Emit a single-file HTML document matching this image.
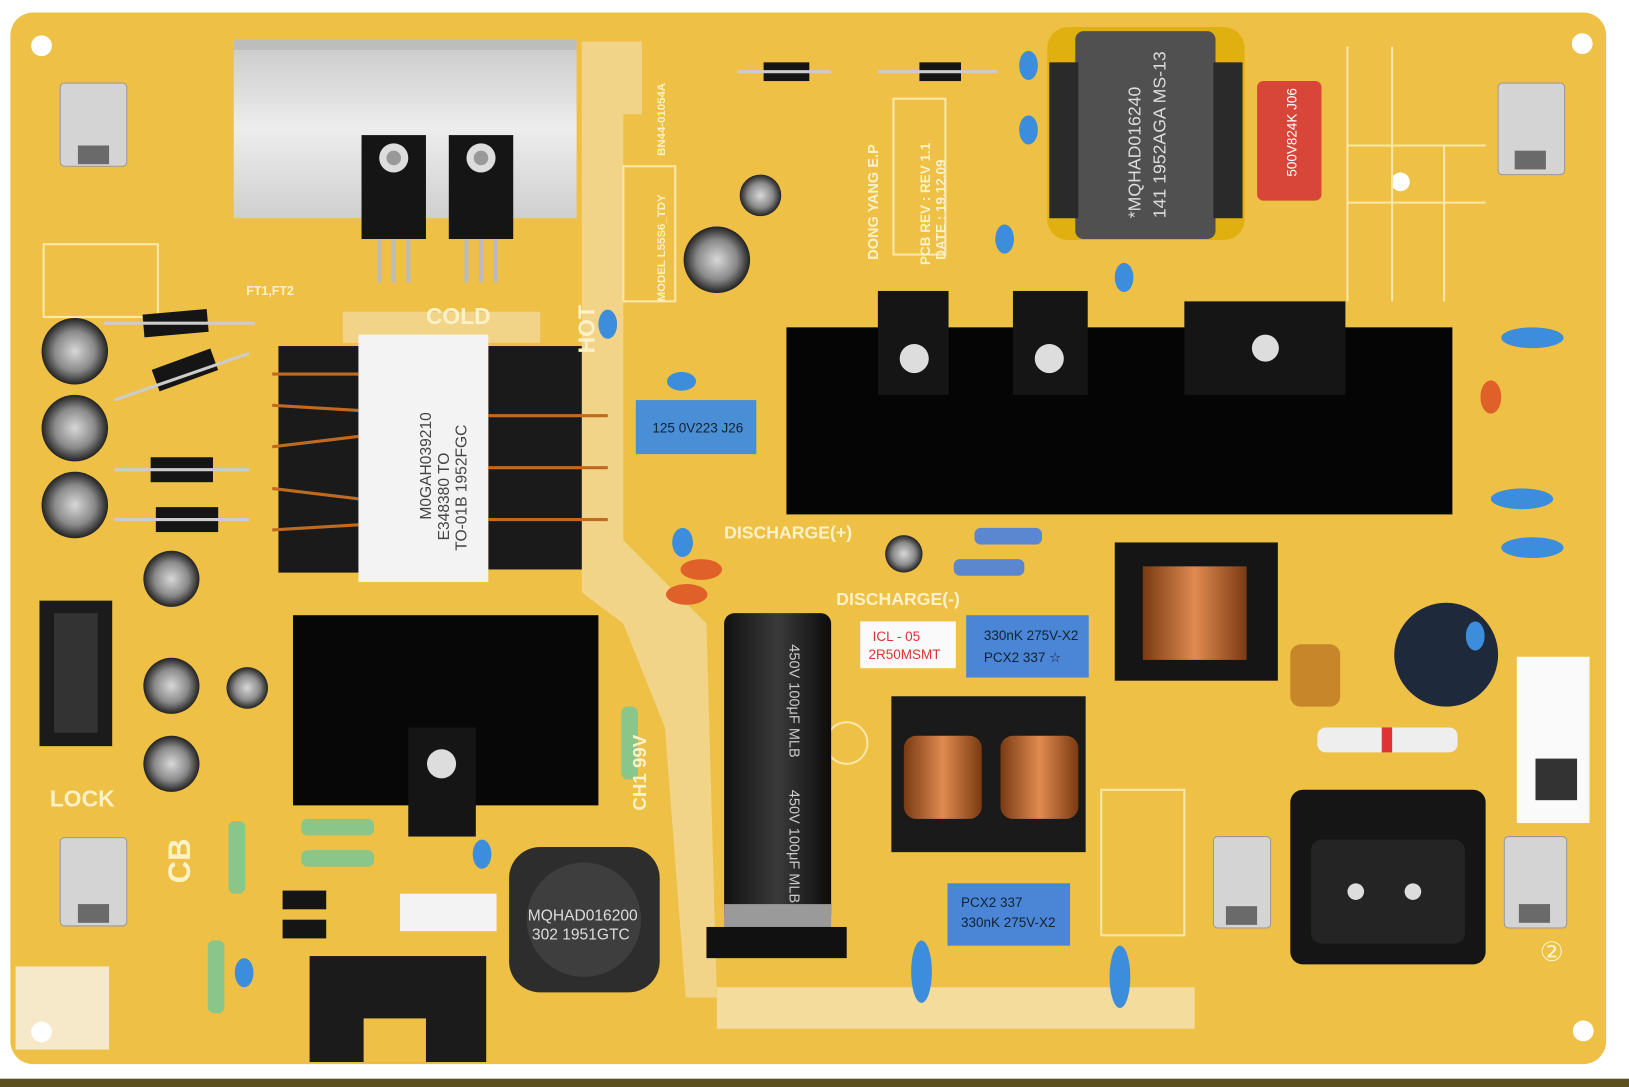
<!DOCTYPE html>
<html><head><meta charset="utf-8"><style>
html,body{margin:0;padding:0;background:#fff;}
svg{display:block;}
text{font-family:"Liberation Sans",sans-serif;}
</style></head><body>
<svg width="1629" height="1087" viewBox="0 0 1568 1046" preserveAspectRatio="none" xmlns="http://www.w3.org/2000/svg">
<defs>
<linearGradient id="al" x1="0" x2="0" y1="0" y2="1"><stop offset="0" stop-color="#c9c9c9"/><stop offset="0.5" stop-color="#ededed"/><stop offset="1" stop-color="#cfcfcf"/></linearGradient>
<linearGradient id="cap" x1="0" x2="1"><stop offset="0" stop-color="#111"/><stop offset="0.5" stop-color="#3a3a3a"/><stop offset="1" stop-color="#0c0c0c"/></linearGradient>
<radialGradient id="ecap"><stop offset="0" stop-color="#d8d8d8"/><stop offset="0.6" stop-color="#8a8a8a"/><stop offset="1" stop-color="#222"/></radialGradient>
<linearGradient id="cu" x1="0" x2="1"><stop offset="0" stop-color="#7a3a12"/><stop offset="0.5" stop-color="#e08a50"/><stop offset="1" stop-color="#7a3a12"/></linearGradient>
</defs>
<rect width="1568" height="1046" fill="#fff"/>
<rect x="0" y="1038" width="1568" height="8" fill="#5a5020"/>
<rect x="10" y="12" width="1536" height="1012" rx="22" fill="#eec045"/>
<path d="M555 40 L618 40 L618 110 L600 110 L600 520 L640 560 L680 600 L690 960 L660 960 L640 700 L600 600 L560 570 L560 40 Z" fill="#f2d488"/>
<path d="M330 300 L520 300 L520 330 L330 330 Z" fill="#f2d488"/>
<rect x="690" y="950" width="460" height="40" fill="#f4dc9c"/>
<rect x="15" y="930" width="90" height="80" fill="#f6e9c9"/>
<g fill="#fff"><circle cx="40" cy="44" r="10"/><circle cx="1523" cy="42" r="10"/><circle cx="40" cy="993" r="10"/><circle cx="1524" cy="992" r="10"/><circle cx="1348" cy="175" r="9"/></g>
<g stroke="#fbe7a8" stroke-width="2" fill="none">
<rect x="42" y="235" width="110" height="70"/>
<line x1="1297" y1="45" x2="1297" y2="290"/><line x1="1297" y1="140" x2="1430" y2="140"/><line x1="1297" y1="195" x2="1430" y2="195"/><line x1="1340" y1="45" x2="1340" y2="290"/><line x1="1390" y1="140" x2="1390" y2="290"/>
<rect x="860" y="95" width="50" height="150"/>
<rect x="600" y="160" width="50" height="130"/>
<circle cx="815" cy="715" r="20"/>
<rect x="1060" y="760" width="80" height="140"/>
</g>
<rect x="225" y="38" width="330" height="172" fill="url(#al)"/>
<rect x="225" y="38" width="330" height="10" fill="#bdbdbd"/>
<g>
<rect x="348" y="130" width="62" height="100" fill="#151515"/><circle cx="379" cy="152" r="14" fill="#ddd"/><circle cx="379" cy="152" r="7" fill="#999"/>
<rect x="432" y="130" width="62" height="100" fill="#151515"/><circle cx="463" cy="152" r="14" fill="#ddd"/><circle cx="463" cy="152" r="7" fill="#999"/>
<g stroke="#bbb" stroke-width="4"><line x1="365" y1="230" x2="365" y2="272"/><line x1="379" y1="230" x2="379" y2="272"/><line x1="393" y1="230" x2="393" y2="272"/><line x1="449" y1="230" x2="449" y2="272"/><line x1="463" y1="230" x2="463" y2="272"/><line x1="477" y1="230" x2="477" y2="272"/></g>
</g>
<g>
<circle cx="72" cy="338" r="32" fill="url(#ecap)"/><circle cx="72" cy="412" r="32" fill="url(#ecap)"/><circle cx="72" cy="486" r="32" fill="url(#ecap)"/>
<circle cx="165" cy="557" r="27" fill="url(#ecap)"/><circle cx="165" cy="660" r="27" fill="url(#ecap)"/><circle cx="165" cy="735" r="27" fill="url(#ecap)"/><circle cx="238" cy="662" r="20" fill="url(#ecap)"/>
<circle cx="732" cy="188" r="20" fill="url(#ecap)"/><circle cx="690" cy="250" r="32" fill="url(#ecap)"/><circle cx="870" cy="533" r="18" fill="url(#ecap)"/>
</g>
<g fill="#151515">
<rect x="138" y="300" width="62" height="22" transform="rotate(-5 169 311)"/><rect x="148" y="345" width="60" height="22" transform="rotate(-20 178 356)"/><rect x="145" y="440" width="60" height="24" /><rect x="150" y="488" width="60" height="24"/>
<rect x="735" y="60" width="44" height="18"/><rect x="885" y="60" width="40" height="18"/>
<rect x="272" y="857" width="42" height="18"/><rect x="272" y="885" width="42" height="18"/>
</g>
<g stroke="#ccc" stroke-width="3"><line x1="100" y1="311" x2="245" y2="311"/><line x1="110" y1="385" x2="240" y2="340"/><line x1="110" y1="452" x2="240" y2="452"/><line x1="110" y1="500" x2="240" y2="500"/><line x1="710" y1="69" x2="800" y2="69"/><line x1="845" y1="69" x2="960" y2="69"/></g>
<rect x="268" y="333" width="82" height="218" fill="#1a1a1a"/>
<rect x="470" y="333" width="90" height="215" fill="#1a1a1a"/>
<rect x="345" y="322" width="125" height="238" fill="#f3f3f3"/>
<text transform="translate(415,500) rotate(-90)" font-size="15" fill="#444">M0GAH039210</text>
<text transform="translate(432,520) rotate(-90)" font-size="15" fill="#444">E348380 TO</text>
<text transform="translate(449,530) rotate(-90)" font-size="15" fill="#444">TO-01B 1952FGC</text>
<g stroke="#c06a20" stroke-width="3"><line x1="262" y1="360" x2="345" y2="360"/><line x1="262" y1="390" x2="345" y2="395"/><line x1="262" y1="430" x2="345" y2="420"/><line x1="262" y1="470" x2="345" y2="480"/><line x1="262" y1="510" x2="345" y2="505"/><line x1="470" y1="400" x2="585" y2="400"/><line x1="470" y1="450" x2="585" y2="450"/><line x1="470" y1="500" x2="585" y2="500"/></g>
<rect x="612" y="385" width="116" height="52" fill="#4a8fd6"/><text x="628" y="416" font-size="13" fill="#123">125 0V223 J26</text>
<rect x="757" y="315" width="641" height="180" fill="#050505"/>
<rect x="845" y="280" width="68" height="100" fill="#151515"/><circle cx="880" cy="345" r="14" fill="#ddd"/>
<rect x="975" y="280" width="72" height="100" fill="#151515"/><circle cx="1010" cy="345" r="14" fill="#ddd"/>
<rect x="1140" y="290" width="155" height="90" fill="#151515"/><circle cx="1218" cy="335" r="13" fill="#ddd"/>
<rect x="1008" y="26" width="190" height="205" rx="20" fill="#e0b010"/>
<rect x="1035" y="30" width="135" height="200" rx="8" fill="#505050"/>
<rect x="1010" y="60" width="28" height="150" fill="#2a2a2a"/><rect x="1168" y="60" width="28" height="150" fill="#2a2a2a"/>
<text transform="translate(1098,210) rotate(-90)" font-size="17" fill="#ddd">*MQHAD016240</text>
<text transform="translate(1122,210) rotate(-90)" font-size="17" fill="#ddd">141 1952AGA MS-13</text>
<rect x="1210" y="78" width="62" height="115" rx="6" fill="#d8463a"/>
<text transform="translate(1248,170) rotate(-90)" font-size="13" fill="#fff">500V824K J06</text>
<rect x="38" y="578" width="70" height="140" fill="#1b1b1b"/><rect x="52" y="590" width="42" height="115" fill="#333"/>
<rect x="298" y="920" width="170" height="102" fill="#1b1b1b"/><rect x="350" y="980" width="60" height="42" fill="#eec045"/>
<rect x="282" y="592" width="294" height="183" fill="#070707"/>
<rect x="393" y="700" width="65" height="105" fill="#151515"/><circle cx="425" cy="735" r="14" fill="#ddd"/>
<rect x="490" y="815" width="145" height="140" rx="30" fill="#2d2d2d"/><circle cx="562" cy="885" r="55" fill="#3e3e3e"/>
<text x="508" y="886" font-size="15" fill="#ddd">MQHAD016200</text><text x="512" y="904" font-size="15" fill="#ddd">302 1951GTC</text>
<rect x="385" y="860" width="93" height="36" fill="#f3f3f3"/>
<rect x="697" y="590" width="103" height="300" rx="10" fill="url(#cap)"/>
<rect x="697" y="870" width="103" height="25" fill="#9a9a9a"/><rect x="680" y="892" width="135" height="30" fill="#111"/>
<text transform="translate(760,620) rotate(90)" font-size="14" fill="#ccc">450V 100μF  MLB</text>
<text transform="translate(760,760) rotate(90)" font-size="14" fill="#ccc">450V 100μF  MLB</text>
<rect x="930" y="592" width="118" height="60" fill="#4b86d6"/><text x="947" y="616" font-size="13" fill="#123">330nK 275V-X2</text><text x="947" y="637" font-size="13" fill="#123">PCX2 337 ☆</text>
<rect x="912" y="850" width="118" height="60" fill="#4b86d6"/><text x="925" y="873" font-size="13" fill="#123">PCX2 337</text><text x="925" y="892" font-size="13" fill="#123">330nK 275V-X2</text>
<rect x="828" y="598" width="92" height="45" fill="#fafafa"/><text x="840" y="617" font-size="13" fill="#d33">ICL - 05</text><text x="836" y="634" font-size="13" fill="#d33">2R50MSMT</text>
<rect x="1073" y="522" width="157" height="133" fill="#151515"/>
<rect x="1100" y="545" width="100" height="90" fill="url(#cu)"/>
<rect x="1242" y="620" width="48" height="60" rx="10" fill="#c8862a"/>
<rect x="858" y="670" width="187" height="150" fill="#1a1a1a"/>
<rect x="870" y="708" width="75" height="80" rx="12" fill="url(#cu)"/><rect x="963" y="708" width="75" height="80" rx="12" fill="url(#cu)"/>
<circle cx="1392" cy="630" r="50" fill="#1e2a3c"/>
<rect x="1268" y="700" width="135" height="24" rx="8" fill="#eee"/><rect x="1330" y="700" width="10" height="24" fill="#d33"/>
<rect x="1242" y="760" width="188" height="168" rx="12" fill="#151515"/><rect x="1262" y="808" width="148" height="100" rx="10" fill="#242424"/>
<circle cx="1305" cy="858" r="8" fill="#ddd"/><circle cx="1360" cy="858" r="8" fill="#ddd"/>
<rect x="1460" y="632" width="70" height="160" fill="#fafafa"/><rect x="1478" y="730" width="40" height="40" fill="#333"/>
<g fill="#5b86d0"><rect x="938" y="508" width="65" height="16" rx="6"/><rect x="918" y="538" width="68" height="16" rx="6"/></g>
<g fill="#8ac58a"><rect x="290" y="788" width="70" height="16" rx="6"/><rect x="290" y="818" width="70" height="16" rx="6"/><rect x="598" y="680" width="16" height="70" rx="6"/><rect x="220" y="790" width="16" height="70" rx="6"/><rect x="200" y="905" width="16" height="70" rx="6"/></g>
<g fill="#3c8edc"><ellipse cx="990" cy="63" rx="9" ry="14"/><ellipse cx="990" cy="125" rx="9" ry="14"/><ellipse cx="967" cy="230" rx="9" ry="14"/><ellipse cx="1082" cy="267" rx="9" ry="14"/><ellipse cx="585" cy="312" rx="9" ry="14"/><ellipse cx="656" cy="367" rx="14" ry="9"/><ellipse cx="657" cy="522" rx="10" ry="14"/><ellipse cx="1475" cy="325" rx="30" ry="10"/><ellipse cx="1465" cy="480" rx="30" ry="10"/><ellipse cx="1475" cy="527" rx="30" ry="10"/><ellipse cx="464" cy="822" rx="9" ry="14"/><ellipse cx="235" cy="936" rx="9" ry="14"/><ellipse cx="887" cy="935" rx="10" ry="30"/><ellipse cx="1078" cy="940" rx="10" ry="30"/><ellipse cx="1420" cy="612" rx="9" ry="14"/></g>
<g fill="#e0602a"><ellipse cx="1435" cy="382" rx="10" ry="16"/><ellipse cx="675" cy="548" rx="20" ry="10"/><ellipse cx="661" cy="572" rx="20" ry="10"/></g>
<g fill="#d4d4d4" stroke="#999"><rect x="58" y="80" width="64" height="80" rx="4"/><rect x="1442" y="80" width="64" height="88" rx="4"/><rect x="58" y="806" width="64" height="85" rx="4"/><rect x="1168" y="805" width="55" height="88" rx="4"/><rect x="1448" y="805" width="60" height="88" rx="4"/></g>
<g fill="#6a6a6a"><rect x="75" y="140" width="30" height="18"/><rect x="1458" y="145" width="30" height="18"/><rect x="75" y="870" width="30" height="18"/><rect x="1180" y="872" width="30" height="18"/><rect x="1462" y="870" width="30" height="18"/></g>
<g fill="#fdf1c8" font-weight="bold">
<text x="410" y="312" font-size="22">COLD</text>
<text transform="translate(572,340) rotate(-90)" font-size="22">HOT</text>
<text x="48" y="776" font-size="22">LOCK</text>
<text transform="translate(183,850) rotate(-90)" font-size="30">CB</text>
<text x="697" y="518" font-size="17">DISCHARGE(+)</text>
<text x="805" y="582" font-size="17">DISCHARGE(-)</text>
<text x="237" y="284" font-size="12">FT1,FT2</text>
<text transform="translate(622,780) rotate(-90)" font-size="18">CH1 99V</text>
<text transform="translate(895,255) rotate(-90)" font-size="13">PCB REV : REV 1.1</text>
<text transform="translate(910,250) rotate(-90)" font-size="13">DATE : 19.12.09</text>
<text transform="translate(845,250) rotate(-90)" font-size="14">DONG YANG E.P</text>
<text transform="translate(640,290) rotate(-90)" font-size="11">MODEL  L55S6_TDY</text>
<text transform="translate(640,150) rotate(-90)" font-size="11">BN44-01054A</text>
</g>
<text x="1482" y="925" font-size="26" fill="#fdf1c8">②</text>
</svg>
</body></html>
